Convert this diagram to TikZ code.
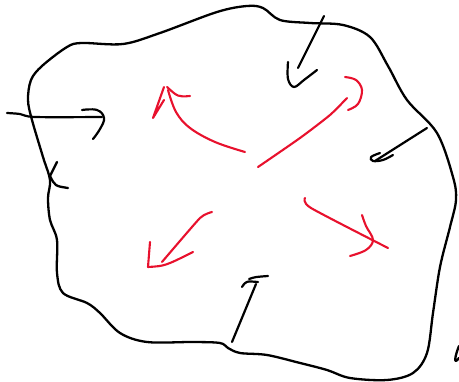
\documentclass[tikz,border=0pt]{standalone}
\usepackage{xcolor}
\usepackage{tikz}

\definecolor{penred}{RGB}{232,17,45}

\begin{document}
\begin{tikzpicture}[
        x=1pt, y=-1pt,
        blob/.style={
            draw=black,
            line width=2.3pt,
            line cap=round,
            line join=round
        },
        inarrow/.style={
            draw=black,
            line width=2.2pt,
            line cap=round,
            line join=round
        },
        outarrow/.style={
            draw=penred,
            line width=2.1pt,
            line cap=round,
            line join=round
        }
    ]
    \useasboundingbox (0,0) rectangle (459,382);

    % outline of the region
    \draw[blob] plot[smooth cycle, tension=0.55] coordinates {
        (50,180) (43,157) (32,120) (28,100) (31,80) (42,66) (67,47) (82,43)
        (123,44) (160,33) (217,12) (247,6) (263,8) (280,20) (310,23) (343,25)
        (370,37) (388,66) (407,100) (437,133) (453,177) (456,200) (450,227)
        (440,267) (433,313) (427,353) (413,373) (387,380) (350,378) (327,370)
        (300,363) (267,355) (240,353) (228,348) (220,343) (193,342) (147,342)
        (120,333) (100,313) (87,303) (63,293) (57,273) (57,240) (50,220) (48,198)};
    \draw[blob] (57,162) -- (50,176) .. controls (55,186) .. (68,188);
    \draw[blob] (459,346) .. controls (455,356) and (453,366) .. (459,358);

    % arrows coming in
    \draw[inarrow] plot[smooth, tension=0.5] coordinates {(7,113) (20,114) (35,117) (102,117)};
    \draw[inarrow] plot[smooth, tension=0.7] coordinates {(82,110) (97,110) (104,118) (100,129) (93,139)};

    \draw[inarrow] (324,16) -- (298,68);
    \draw[inarrow] plot[smooth, tension=0.6] coordinates {(288,62) (288,79) (294,87) (304,80) (317,70)};

    \draw[inarrow] (427,128) -- (375,161);
    \draw[inarrow] plot[smooth, tension=0.6] coordinates {(380,153) (371,157) (373,161) (383,160) (393,155)};

    \draw[inarrow] (232,342) -- (256,284);
    \draw[inarrow] (242,287) .. controls (246,281) .. (258,282);
    \draw[inarrow] (249,279) .. controls (255,277) .. (268,276);

    % arrows going out
    \draw[outarrow] plot[smooth, tension=0.6] coordinates {(245,152) (215,142) (190,128) (176,112) (168,90)};
    \draw[outarrow] (164,87) -- (153,118) -- (164,100);
    \draw[outarrow] (167,87) .. controls (178,97) .. (190,96);

    \draw[outarrow] plot[smooth, tension=0.4] coordinates {(258,167) (300,138) (330,115) (347,98)};
    \draw[outarrow] plot[smooth, tension=0.6] coordinates {(345,77) (356,80) (362,90) (358,104) (348,110)};

    \draw[outarrow] plot[smooth, tension=0.3] coordinates {(212,212) (200,218) (162,262)};
    \draw[outarrow] (150,242) -- (148,267) .. controls (165,266) .. (193,252);

    \draw[outarrow] plot[smooth, tension=0.4] coordinates {(305,198) (311,208) (388,248)};
    \draw[outarrow] plot[smooth, tension=0.6] coordinates {(362,215) (366,226) (373,240) (366,250) (350,256)};
\end{tikzpicture}
\end{document}
